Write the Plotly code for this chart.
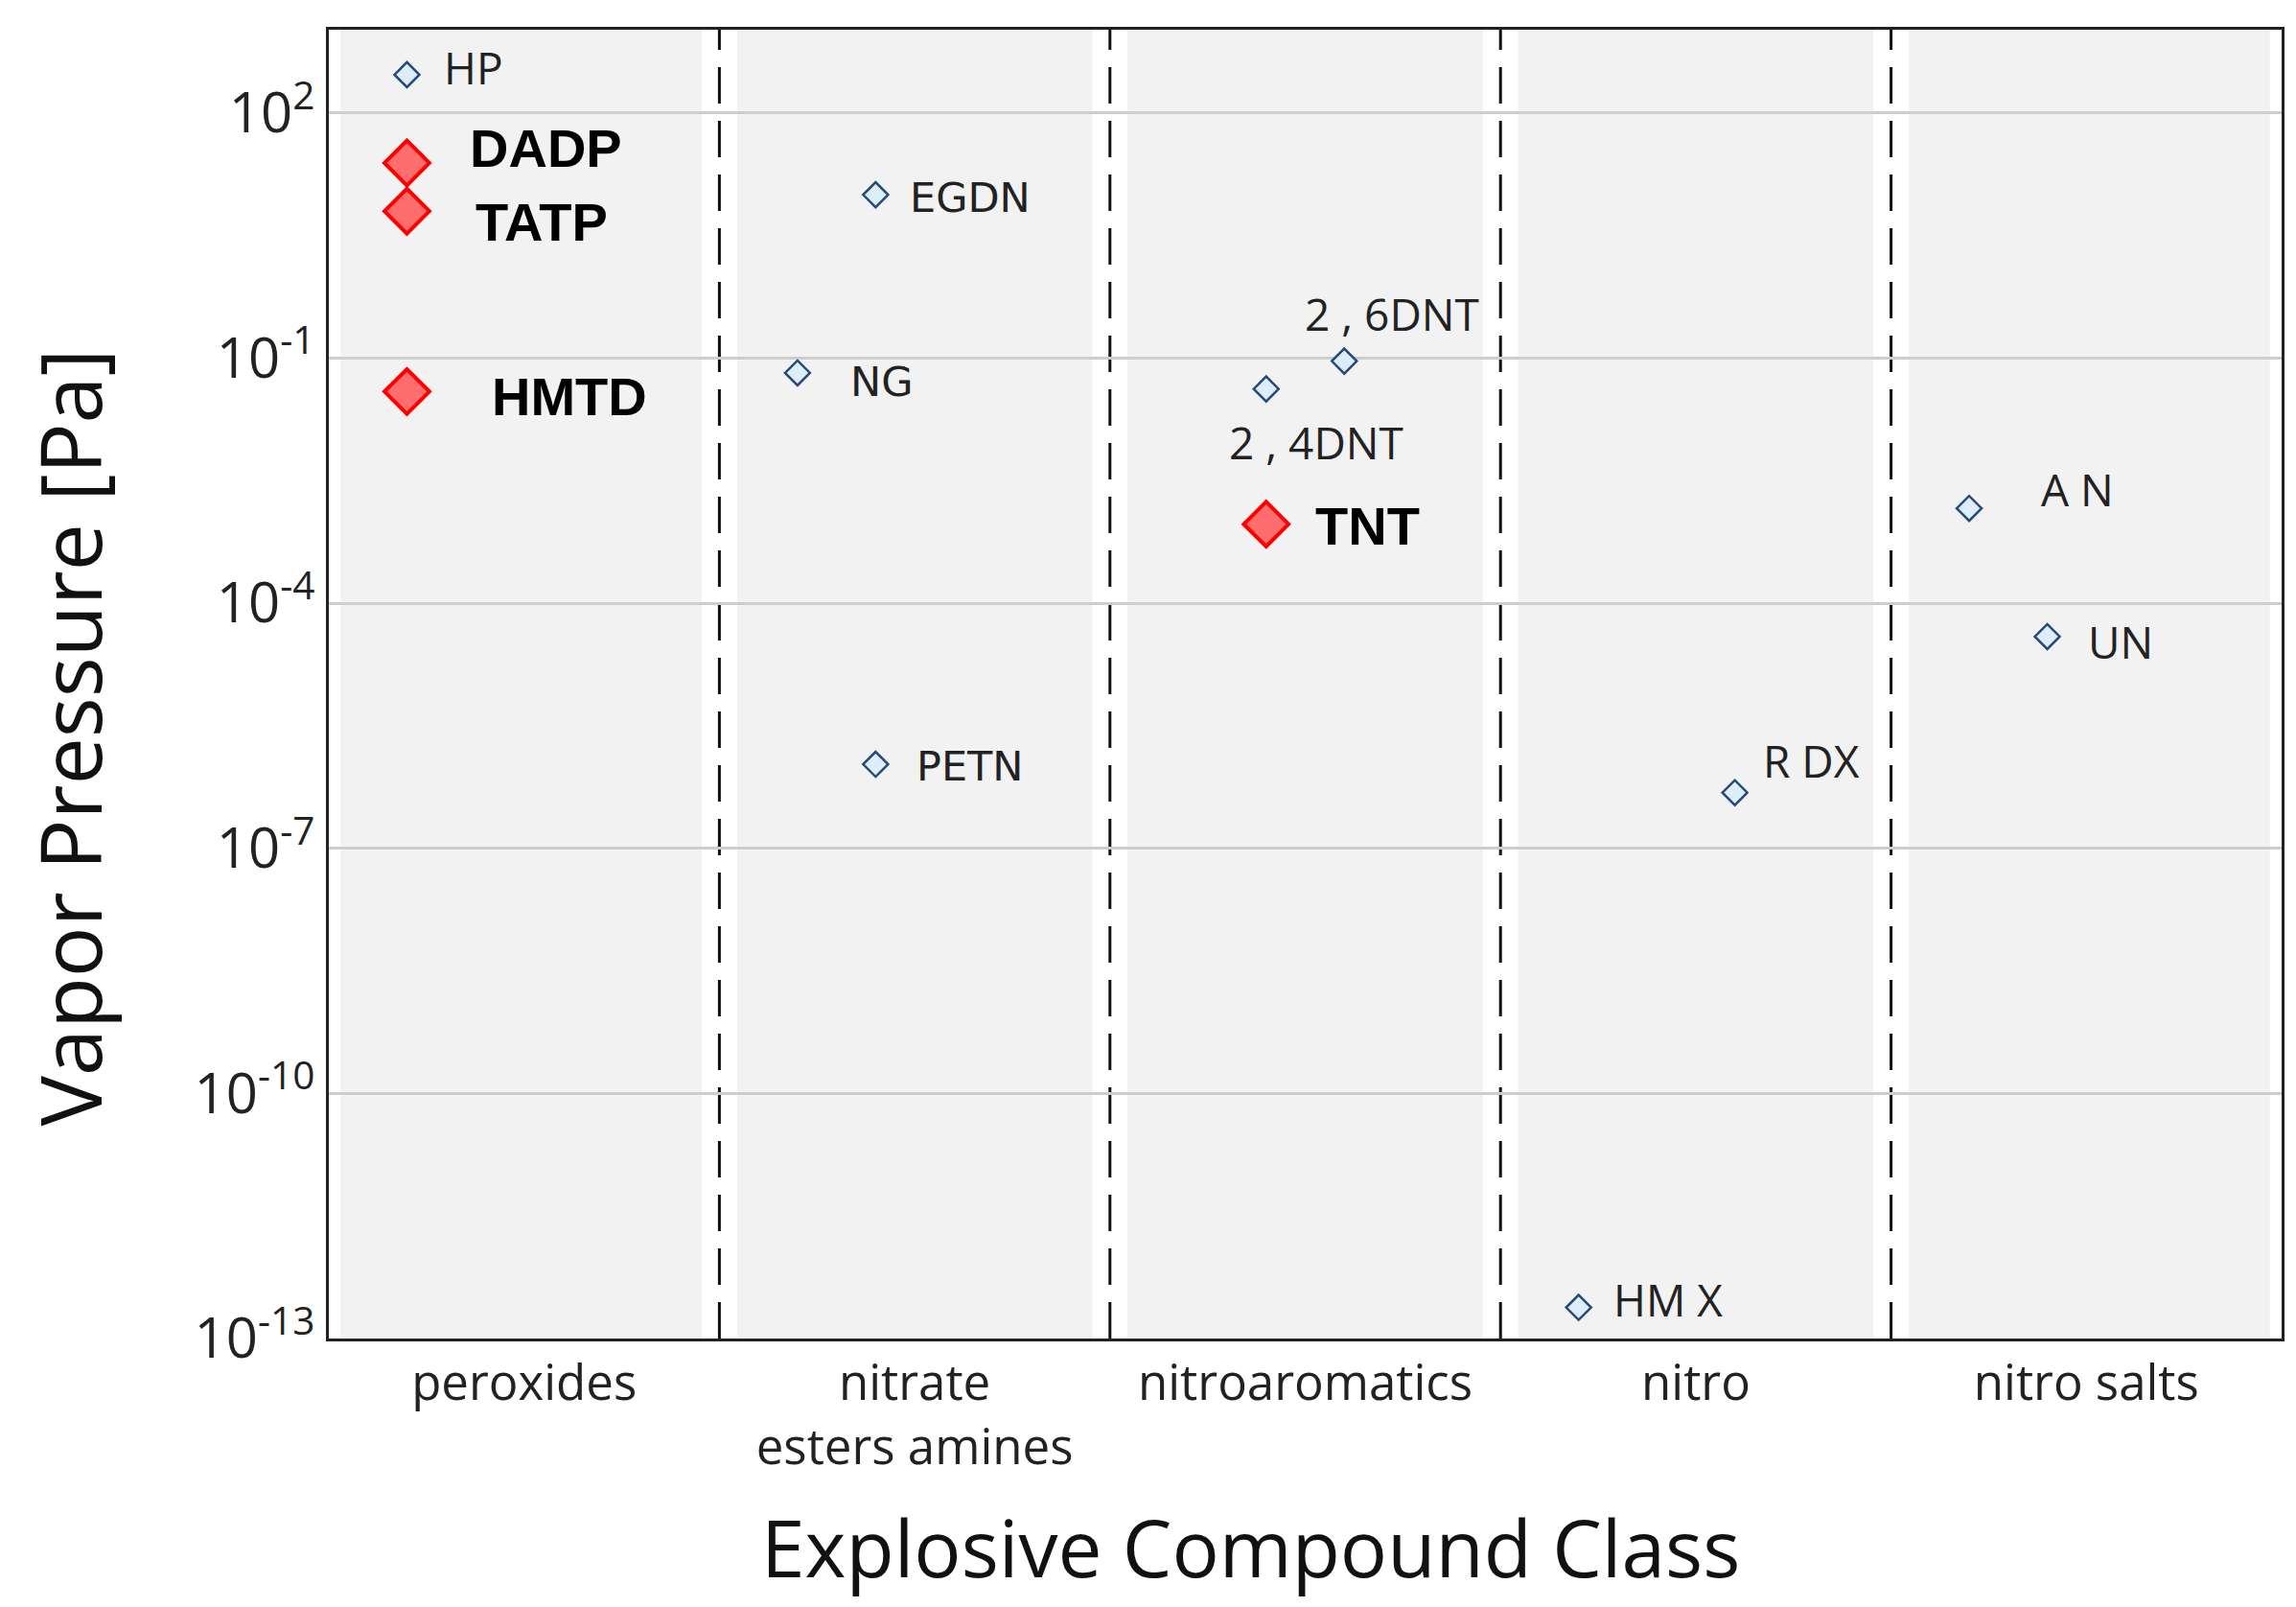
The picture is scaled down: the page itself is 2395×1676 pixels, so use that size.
import math
import plotly.graph_objects as go

# compound classes on the x axis
classes = ["peroxides", "nitrate<br>esters amines", "nitroaromatics", "nitro", "nitro salts"]

# compounds, their class, where they sit inside the class column, vapor pressure (Pa)
compounds = ["HP", "DADP", "TATP", "HMTD", "EGDN", "NG", "PETN",
             "2 , 4DNT", "2 , 6DNT", "TNT", "HM X", "R DX", "A N", "UN"]
class_idx = [0, 0, 0, 0, 1, 1, 1, 2, 2, 2, 3, 3, 4, 4]
x_offset = [-0.3, -0.3, -0.3, -0.3, -0.1, -0.3, -0.1, -0.1, 0.1, -0.1, -0.3, 0.1, -0.3, -0.1]
vapor_pa = [295, 24.5, 6.3, 0.039, 10.0, 0.066, 1.07e-6,
            0.042, 0.092, 9.3e-4, 2.4e-13, 4.8e-7, 1.45e-3, 3.9e-5]
highlight = [False, True, True, True, False, False, False,
             False, False, True, False, False, False, False]

ytick_vals = [1e2, 1e-1, 1e-4, 1e-7, 1e-10, 1e-13]
ytick_text = ["10<sup>2</sup>", "10<sup>-1</sup>", "10<sup>-4</sup>",
              "10<sup>-7</sup>", "10<sup>-10</sup>", "10<sup>-13</sup>"]

# label offsets in pixels (xshift, yshift, xanchor) -- styling only
label_pos = {
    "HP": (37, 8, "left"), "DADP": (64, 15, "left"), "TATP": (70, -11, "left"),
    "HMTD": (87, -5, "left"), "EGDN": (34, -3, "left"), "NG": (53, -9, "left"),
    "PETN": (41, -2, "left"), "2 , 4DNT": (52, -55, "center"),
    "2 , 6DNT": (50, 50, "center"), "TNT": (49, -2, "left"), "HM X": (34, 9, "left"),
    "R DX": (27, 34, "left"), "A N": (73, 20, "left"), "UN": (40, -5, "left"),
}

xs = [c + o for c, o in zip(class_idx, x_offset)]

fig = go.Figure()

plain_x = [x for x, h in zip(xs, highlight) if not h]
plain_y = [y for y, h in zip(vapor_pa, highlight) if not h]
red_x = [x for x, h in zip(xs, highlight) if h]
red_y = [y for y, h in zip(vapor_pa, highlight) if h]

fig.add_trace(go.Scatter(
    x=plain_x, y=plain_y, mode="markers",
    marker=dict(symbol="diamond", size=20, color="#ddedf9",
                line=dict(color="#244a78", width=2.5)),
    showlegend=False))
fig.add_trace(go.Scatter(
    x=red_x, y=red_y, mode="markers",
    marker=dict(symbol="diamond", size=36, color="#ff6e6e",
                line=dict(color="#ff0000", width=4)),
    showlegend=False))

for name, x, y, h in zip(compounds, xs, vapor_pa, highlight):
    dx, dy, anchor = label_pos[name]
    if h:
        font = dict(family="Liberation Sans", size=56, color="#000000", weight="bold")
    elif name in ("EGDN", "NG", "PETN"):
        font = dict(family="DejaVu Sans", size=43, color="#222222")
    else:
        font = dict(family="Open Sans", size=46, color="#222222")
    fig.add_annotation(x=x, y=math.log10(y), text=name, showarrow=False,
                       xanchor=anchor, yanchor="middle", xshift=dx, yshift=dy, font=font)

# white gutters and dashed separators between classes
for b in [0.5, 1.5, 2.5, 3.5]:
    fig.add_shape(type="rect", xref="x", yref="paper", x0=b - 0.045, x1=b + 0.045,
                  y0=0, y1=1, fillcolor="white", line_width=0, layer="between")
    fig.add_shape(type="line", xref="x", yref="paper", x0=b, x1=b, y0=0, y1=1,
                  line=dict(color="#111111", width=3, dash="38px,18px"), layer="between")
for x0, x1 in [(-0.5, -0.47), (4.47, 4.5)]:
    fig.add_shape(type="rect", xref="x", yref="paper", x0=x0, x1=x1,
                  y0=0, y1=1, fillcolor="white", line_width=0, layer="between")

# axis titles
fig.add_annotation(xref="paper", yref="paper", x=0.472, y=0, yshift=-217,
                   xanchor="center", yanchor="middle", showarrow=False,
                   text="Explosive Compound Class",
                   font=dict(family="Open Sans", size=82, color="#111111"))
fig.add_annotation(xref="paper", yref="paper", x=0, y=0.459, xshift=-271,
                   xanchor="center", yanchor="middle", showarrow=False, textangle=-90,
                   text="Vapor Pressure [Pa]",
                   font=dict(family="Open Sans", size=88, color="#111111"))

fig.update_xaxes(
    range=[-0.5, 4.5], tickmode="array", tickvals=list(range(len(classes))),
    ticktext=classes, showgrid=False, zeroline=False,
    showline=True, mirror=True, linecolor="#222222", linewidth=3,
    tickfont=dict(family="Open Sans", size=51, color="#222222"))
fig.update_yaxes(
    type="log", range=[-13, 3.02], tickmode="array", tickvals=ytick_vals,
    ticktext=ytick_text, showgrid=True, gridcolor="#cdcdcd", gridwidth=3,
    zeroline=False, showline=True, mirror=True, linecolor="#222222", linewidth=3,
    tickfont=dict(family="Open Sans", size=58, color="#222222"))

fig.update_layout(
    width=2395, height=1676,
    margin=dict(l=335, r=23, t=23, b=288),
    paper_bgcolor="white", plot_bgcolor="#f2f2f2")

fig.write_html("out.html")
